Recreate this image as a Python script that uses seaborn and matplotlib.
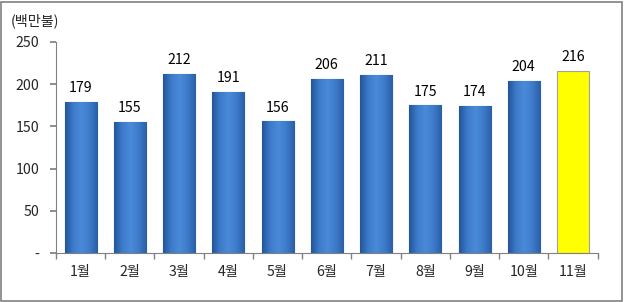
import matplotlib
matplotlib.use("Agg")
import matplotlib.pyplot as plt
import seaborn as sns
import pandas as pd
import numpy as np
from matplotlib.patches import Rectangle
from matplotlib.ticker import FixedLocator
from matplotlib.colors import LinearSegmentedColormap

months = ["1월", "2월", "3월", "4월", "5월", "6월", "7월", "8월", "9월", "10월", "11월"]
values = [179, 155, 212, 191, 156, 206, 211, 175, 174, 204, 216]
unit_label = "(백만불)"
yticks = [0, 50, 100, 150, 200, 250]
ytick_labels = ["-", "50", "100", "150", "200", "250"]

sns.set_theme(style="white")
plt.rcParams['font.family'] = ['Noto Sans CJK KR', 'DejaVu Sans']

df = pd.DataFrame({"month": months, "value": values})
colors = ["#3A78C8"] * (len(months) - 1) + ["#FFFF00"]
edges = ["#24528F"] * (len(months) - 1) + ["#A0A0A0"]
FS = 10.2

fig = plt.figure(figsize=(6.24, 3.02), dpi=100)
ax = fig.add_axes([0.0897, 0.1623, 0.868, 0.6987])

sns.barplot(data=df, x="month", y="value", hue="month", palette=colors,
            legend=False, width=0.65, ax=ax, saturation=1)

blue_cmap = LinearSegmentedColormap.from_list(
    "bluegrad", ["#24559A", "#3D7CCB", "#4A8AD8", "#3D7CCB", "#2A5FA6"])
grad = np.linspace(0, 1, 64).reshape(1, -1)
for p, ec, c in zip(ax.patches, edges, colors):
    p.set_edgecolor(ec)
    p.set_linewidth(0.8)
    if c != "#FFFF00":
        x0, y0 = p.get_x(), p.get_y()
        w, h = p.get_width(), p.get_height()
        im = ax.imshow(grad, cmap=blue_cmap, aspect="auto",
                       extent=(x0, x0 + w, y0, y0 + h), zorder=p.get_zorder() + 0.1)
        im.set_clip_path(p)

for i, v in enumerate(values):
    ax.text(i, v + 8, str(v), ha="center", va="bottom", fontsize=FS, color="black")

ax.set_xlim(-0.5, len(months) - 0.5)
ax.set_ylim(0, 250)
ax.set_yticks(yticks)
ax.set_yticklabels(ytick_labels, fontsize=FS)
ax.set_xticks(range(len(months)))
ax.set_xticklabels(months, fontsize=FS)
ax.xaxis.set_minor_locator(FixedLocator([i - 0.5 for i in range(len(months) + 1)]))
ax.tick_params(axis="x", which="major", length=0, pad=9)
ax.tick_params(axis="x", which="minor", length=4, color="#808080", bottom=True)
ax.tick_params(axis="y", which="major", length=4, color="#808080", left=True, pad=8)
ax.set_xlabel("")
ax.set_ylabel("")
for s in ["top", "right"]:
    ax.spines[s].set_visible(False)
for s in ["left", "bottom"]:
    ax.spines[s].set_color("#808080")
    ax.spines[s].set_linewidth(0.8)

fig.text(0.018, 0.93, unit_label, fontsize=FS, ha="left", va="center")

fig.patches.append(Rectangle((0.002, 0.004), 0.995, 0.99, transform=fig.transFigure,
                             fill=False, edgecolor="#808080", linewidth=1.2))

fig.savefig("out.png", dpi=100)
